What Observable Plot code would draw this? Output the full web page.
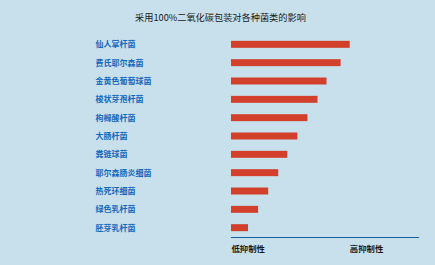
<!DOCTYPE html>
<html>
<head>
<meta charset="utf-8">
<script src="https://cdn.jsdelivr.net/npm/d3@7"></script>
<script src="https://cdn.jsdelivr.net/npm/@observablehq/plot@0.6"></script>
<style>
  html, body { margin: 0; padding: 0; background: #c7e0ec; }
  body { width: 435px; height: 265px; overflow: hidden; font-family: "Noto Sans CJK SC", sans-serif; }
  #title { height: 32px; line-height: 34px; font-size: 9.2px; color: #1a1a1a; text-align: center; padding-left: 6px; box-sizing: border-box; }
  #chart svg { display: block; }
</style>
</head>
<body>
<div id="title">采用100%二氧化碳包装对各种菌类的影响</div>
<div id="chart"></div>
<script>
const categories = ["仙人掌杆菌", "费氏耶尔森菌", "金黄色葡萄球菌", "梭状芽孢杆菌", "枸橼酸杆菌", "大肠杆菌", "粪链球菌", "耶尔森肠炎细菌", "热死环细菌", "绿色乳杆菌", "胚芽乳杆菌"];
const values = [10.03, 9.26, 8.07, 7.31, 6.46, 5.61, 4.76, 3.99, 3.14, 2.29, 1.44];
const tickValues = [0, 10];
const tickLabels = ["低抑制性", "高抑制性"];

const data = categories.map((c, i) => ({name: c, value: values[i]}));

const chart = Plot.plot({
  width: 435,
  height: 233,
  marginLeft: 231,
  marginRight: 17,
  marginTop: 7,
  marginBottom: 32,
  style: {background: "transparent", fontFamily: "'Noto Sans CJK SC', sans-serif"},
  x: {domain: [0, 15.8]},
  y: {domain: categories, paddingInner: 0.62, paddingOuter: 0.1, round: false},
  marks: [
    Plot.barX(data, {x: "value", y: "name", fill: "#d2402b"}),
    Plot.frame({anchor: "bottom", stroke: "#1a5e9e", strokeWidth: 1.2, dy: 4}),
    Plot.axisY({tickSize: 0, tickPadding: 136, textAnchor: "start", fill: "#1169bd", fontSize: 8, fontWeight: "bold", label: null}),
    Plot.axisX({ticks: tickValues, tickFormat: (d) => tickLabels[tickValues.indexOf(d)], tickSize: 0, tickPadding: 13, textAnchor: "start", fill: "#1a1a1a", fontSize: 8.4, fontWeight: "bold", label: null})
  ]
});
document.getElementById("chart").appendChild(chart);
</script>
</body>
</html>
